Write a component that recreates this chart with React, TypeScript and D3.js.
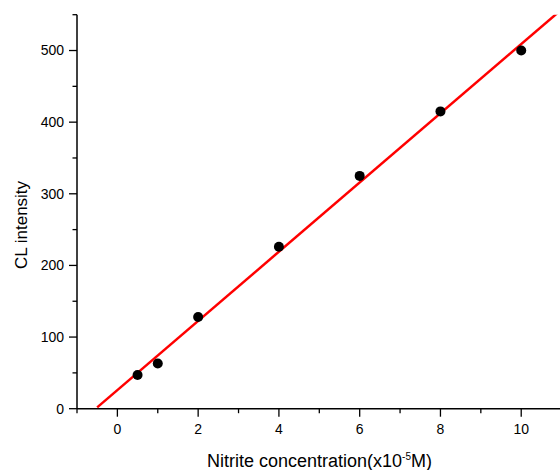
import React from "react";
import * as d3 from "d3";

const concentrations = [0.5, 1, 2, 4, 6, 8, 10];
const intensities = [47, 63, 128, 226, 325, 415, 500];
const fitX = [-0.5, 11];
const fitSlope = 48.3;
const fitIntercept = 26;
const xTicks = [0, 2, 4, 6, 8, 10];
const xMinor = [-1, 1, 3, 5, 7, 9, 11];
const yTicks = [0, 100, 200, 300, 400, 500];
const yMinor = [50, 150, 250, 350, 450, 550];

const W = 560;
const H = 470;
const left = 77;
const top = 14.7;
const bottom = 408.7;
const right = 561.6;

export default function App() {
  const x = d3.scaleLinear().domain([-1, 11]).range([left, right]);
  const y = d3.scaleLinear().domain([0, 550]).range([bottom, top]);
  const fitLine = d3
    .line<number>()
    .x((d) => x(d))
    .y((d) => y(fitIntercept + fitSlope * d));
  const font = "'Liberation Sans', Arial, sans-serif";
  return (
    <svg
      width={W}
      height={H}
      style={{ position: "absolute", left: 0, top: 0, background: "#fff" }}
      fontFamily={font}
    >
      <defs>
        <clipPath id="plot">
          <rect x={left} y={top} width={right - left} height={bottom - top} />
        </clipPath>
      </defs>
      {/* y axis */}
      <line x1={left} x2={left} y1={top} y2={bottom} stroke="#000" strokeWidth={1.5} />
      {yTicks.map((t) => (
        <g key={"yt" + t}>
          <line x1={left - 8} x2={left} y1={y(t)} y2={y(t)} stroke="#000" strokeWidth={1.3} />
          <text x={left - 13} y={y(t)} dy="0.35em" textAnchor="end" fontSize={14} fill="#000">
            {t}
          </text>
        </g>
      ))}
      {yMinor.map((t) => (
        <line key={"ym" + t} x1={left - 4.5} x2={left} y1={y(t)} y2={y(t)} stroke="#000" strokeWidth={1.3} />
      ))}
      {/* x axis */}
      <line x1={left} x2={right} y1={bottom} y2={bottom} stroke="#000" strokeWidth={1.5} />
      {xTicks.map((t) => (
        <g key={"xt" + t}>
          <line x1={x(t)} x2={x(t)} y1={bottom} y2={bottom + 8} stroke="#000" strokeWidth={1.3} />
          <text x={x(t)} y={433.5} textAnchor="middle" fontSize={14} fill="#000">
            {t}
          </text>
        </g>
      ))}
      {xMinor.map((t) => (
        <line key={"xm" + t} x1={x(t)} x2={x(t)} y1={bottom} y2={bottom + 4.5} stroke="#000" strokeWidth={1.3} />
      ))}
      {/* titles */}
      <text
        transform={`translate(26.5,225) rotate(-90)`}
        textAnchor="middle"
        fontSize={17}
        fill="#000"
      >
        CL intensity
      </text>
      <text x={207} y={467} fontSize={18} fill="#000">
        Nitrite concentration(x10
        <tspan fontSize={10} dy={-7}>-5</tspan>
        <tspan dy={7}>M)</tspan>
      </text>
      {/* fit line */}
      <path
        d={fitLine(fitX) || ""}
        clipPath="url(#plot)"
        fill="none"
        stroke="#ff0000"
        strokeWidth={2.5}
      />
      {/* points */}
      {concentrations.map((c, i) => (
        <circle key={"p" + i} cx={x(c)} cy={y(intensities[i])} r={5} fill="#000" />
      ))}
    </svg>
  );
}
